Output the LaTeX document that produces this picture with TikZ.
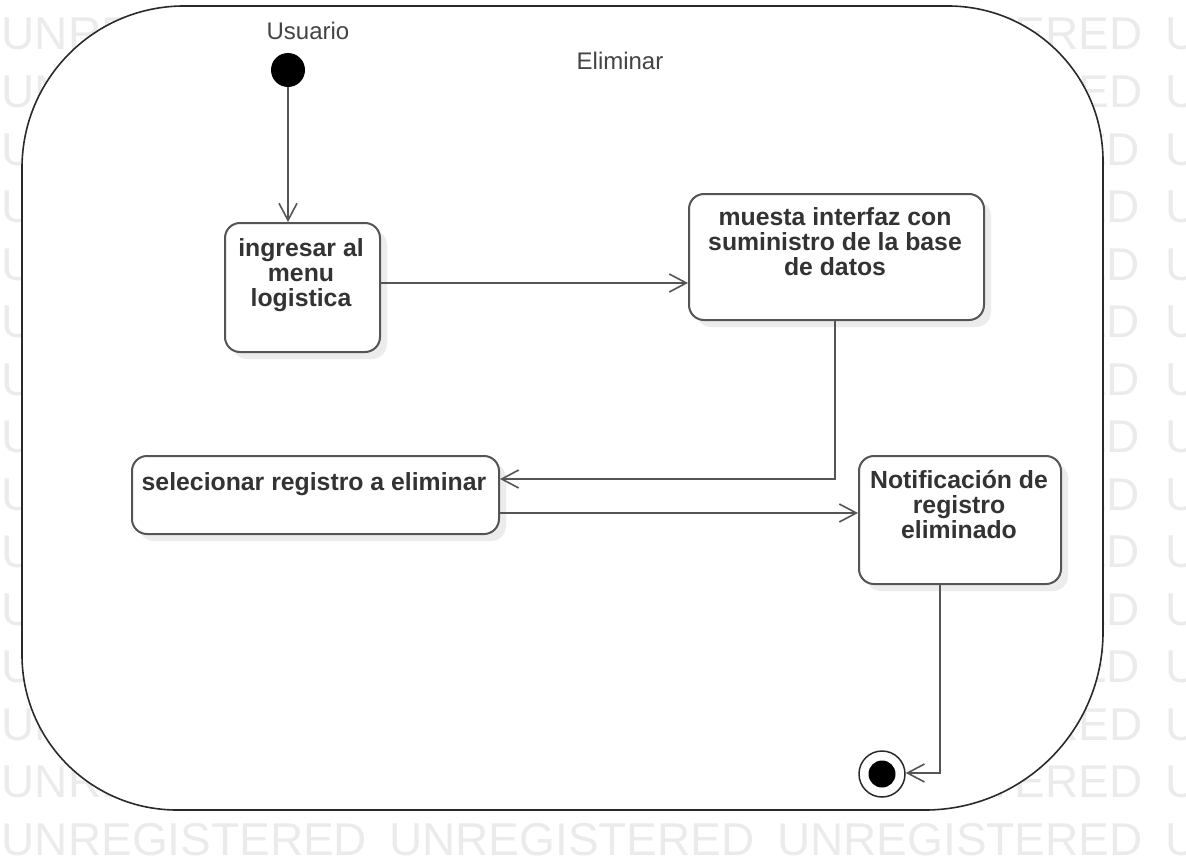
\documentclass[tikz,border=0pt]{standalone}
\usepackage{fontspec}
\setmainfont{Liberation Sans}
\usetikzlibrary{arrows.meta,shadows}
\definecolor{ln}{HTML}{555555}
\definecolor{txt}{HTML}{333333}
\definecolor{ttl}{HTML}{444444}
\definecolor{wm}{HTML}{EBEBEB}
\definecolor{frm}{HTML}{2A2A2A}
\begin{document}
\begin{tikzpicture}[x=1pt,y=-1pt,
  statebox/.style={draw=ln, line width=2pt, rounded corners=15pt, fill=white,
    inner sep=0pt, anchor=north west,
    drop shadow={shadow xshift=7pt, shadow yshift=-7pt, fill=black!14, opacity=0.5}},
  stext/.style={font=\fontsize{24.8}{25}\selectfont\bfseries, text=txt, align=center,
    inner sep=0pt, anchor=north},
  ttext/.style={font=\fontsize{24}{25}\selectfont, text=ttl, inner sep=0pt, anchor=base},
  wmtext/.style={font=\fontsize{46}{46}\selectfont, text=wm, inner sep=0pt, anchor=base west},
  conn/.style={draw=ln, line width=2pt,
    -{Straight Barb[length=17pt,width=18pt,line width=1.6pt]}},
  frame/.style={draw=frm, line width=1.6pt, fill=white}
]
\useasboundingbox (0,0) rectangle (1186,867);
% watermark (only the parts that show outside the frame)
\foreach \j/\xx in {0/1.5,1/389,2/777}{
  \node[wmtext] (wm-0-\j) at (\xx,855) {UNREGISTERED};
}
\node[wmtext] (wm-0-3) at (1165,855) {U};
\foreach \k/\lft/\rgt/\rx in {1/UNRE/TERED/986.6, 2/UN/RED/1045.4, 3/U/ED/1076,
    4/U/ED/1076, 5/U/ED/1076, 6/U/ED/1076, 7/U/ED/1076, 8/U/ED/1076, 9/U/ED/1076,
    10/U/ED/1076, 11/U/ED/1076, 12/U/ED/1076, 13/UN/RED/1045.4, 14/UNRE/TERED/986.6}{
  \node[wmtext] (wml-\k) at (1.5,{855-57.5*\k}) {\lft};
  \node[wmtext] (wmr-\k) at (\rx,{855-57.5*\k}) {\rgt};
  \node[wmtext] (wmu-\k) at (1165,{855-57.5*\k}) {U};
}
% frame
\path[frame] (22,400) [rounded corners=162pt] -- (22,6) [rounded corners=155pt] -- (1103,6)
  [rounded corners=178pt] -- (1103,810) [rounded corners=155pt] -- (22,810) [sharp corners] -- cycle;
% titles
\node[ttext] (lusuario) at (308,40) {Usuario};
\node[ttext] (leliminar) at (620,70) {Eliminar};
% initial and final
\node[circle, fill=black, minimum size=34pt, inner sep=0pt] (ini) at (288,70) {};
\node[circle, draw=frm, line width=1.5pt, fill=white, minimum size=46pt, inner sep=0pt] (fin) at (882,774) {};
\node[circle, fill=black, minimum size=27pt, inner sep=0pt] (finin) at (fin.center) {};
% boxes
\node[statebox, minimum width=155pt, minimum height=129pt] (b1) at (224,222) {};
\node[statebox, minimum width=295pt, minimum height=126pt] (b2) at (688,193) {};
\node[statebox, minimum width=367pt, minimum height=78pt] (b3) at (131,455) {};
\node[statebox, minimum width=202pt, minimum height=128pt] (b4) at (858,455) {};
% texts
\node[stext] (t1) at (301,234) {\rule{0pt}{22pt}ingresar al\\menu\\logistica};
\node[stext] (t2) at (835,203) {\rule{0pt}{22pt}muesta interfaz con\\suministro de la base\\de datos};
\node[stext] (t3) at (314,468) {\rule{0pt}{22pt}selecionar registro a eliminar};
\node[stext] (t4) at (959,466) {\rule{0pt}{22pt}Notificación de\\registro\\eliminado};
% connectors
\coordinate (c2) at (0,283);
\coordinate (c3) at (835,479);
\coordinate (c4) at (0,513);
\coordinate (c5) at (940,773);
\draw[conn] (ini.south) -- (ini.south |- b1.north);
\draw[conn] (b1.east |- c2) -- (b2.west |- c2);
\draw[conn] (b2.south -| c3) -- (c3) -- (c3 -| b3.east);
\draw[conn] (b3.east |- c4) -- (b4.west |- c4);
\draw[conn] (b4.south -| c5) -- (c5) -- (c5 -| fin.east);
\end{tikzpicture}
\end{document}
